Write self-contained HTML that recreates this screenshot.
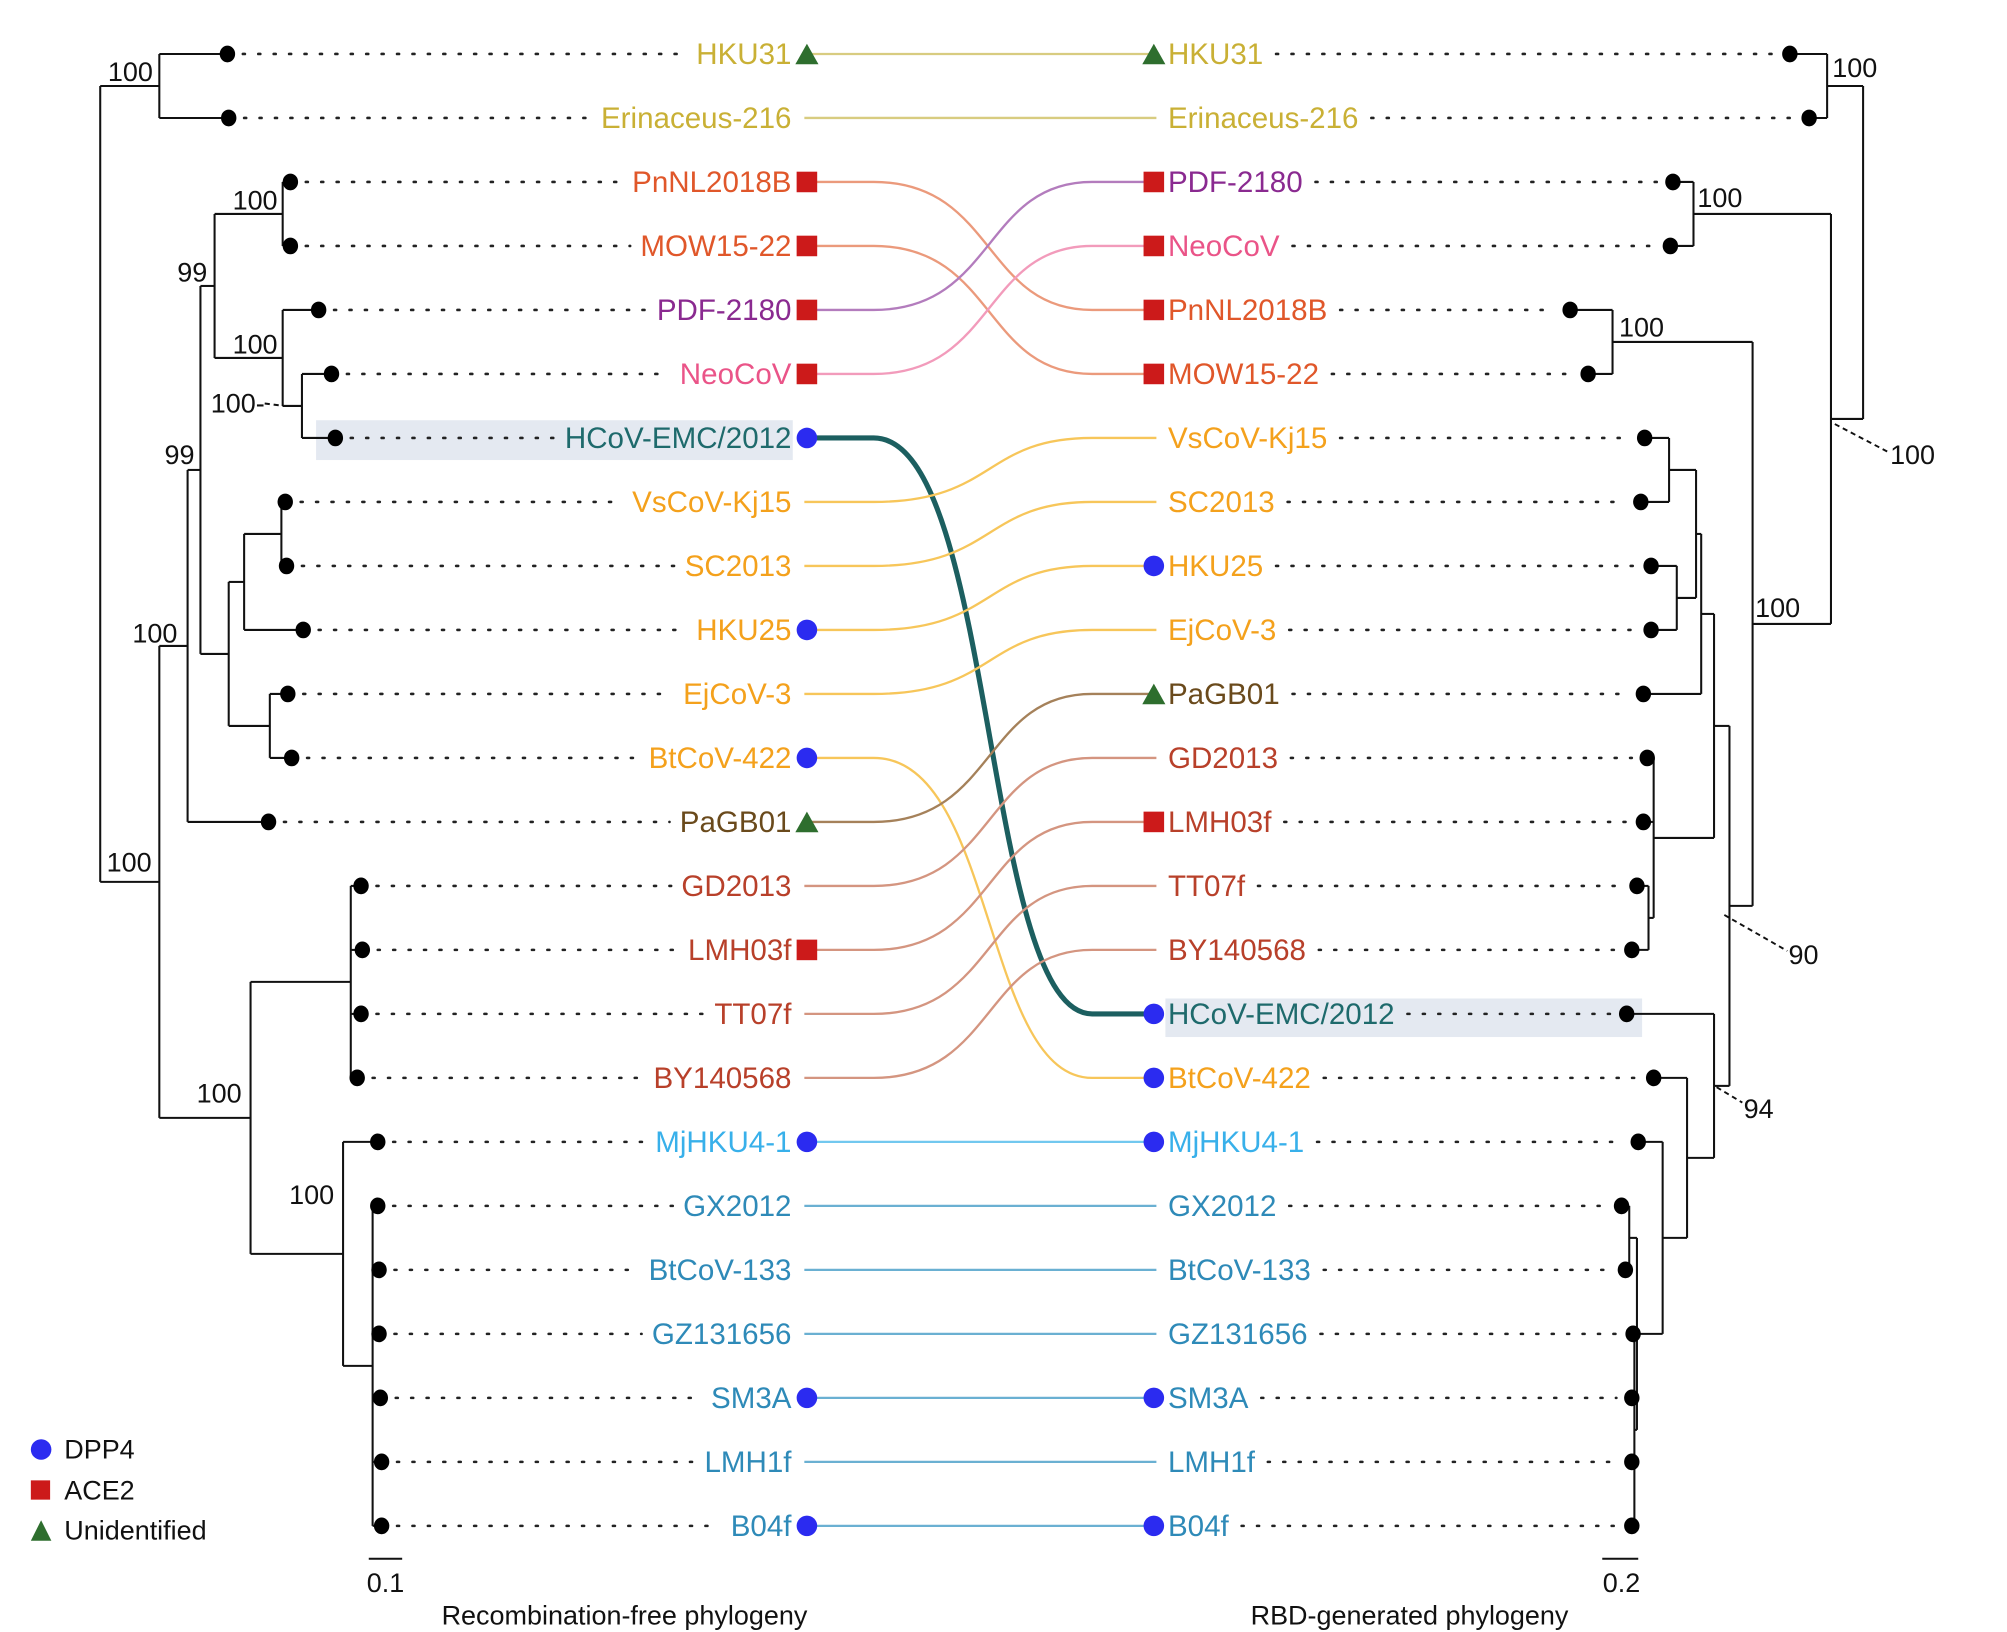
<!DOCTYPE html>
<html><head><meta charset="utf-8">
<style>
html,body{margin:0;padding:0;background:#fff;}
svg{display:block;}
text{font-family:"Liberation Sans",sans-serif;}
</style></head>
<body>
<svg id="chart" width="2007" height="1632" viewBox="0 0 1562 1270" preserveAspectRatio="none" xmlns="http://www.w3.org/2000/svg">
<rect x="246" y="327" width="371" height="31" fill="#e4e9f1"/>
<rect x="907" y="777" width="371" height="30" fill="#e4e9f1"/>
<g id="links"></g><g id="trees"></g><g id="labels"></g>
<g font-size="21" fill="#111">
<text x="84" y="63">100</text><text x="83" y="678">100</text><text x="103" y="500">100</text>
<text x="153" y="858">100</text><text x="225" y="937">100</text><text x="138" y="219">99</text>
<text x="128" y="361">99</text><text x="181" y="163">100</text><text x="181" y="275">100</text>
<text x="164" y="321">100-</text>
<text x="1426" y="60">100</text><text x="1321" y="161">100</text><text x="1260" y="262">100</text>
<text x="1366" y="480">100</text><text x="1471" y="361">100</text><text x="1392" y="750">90</text><text x="1357" y="870">94</text>
</g>
<g stroke="#111" stroke-width="1.5" stroke-dasharray="4,3" fill="none">
<line x1="206" y1="314" x2="222" y2="316"/><line x1="1428" y1="330" x2="1470" y2="352"/>
<line x1="1342" y1="712" x2="1391" y2="740"/><line x1="1336" y1="846" x2="1356" y2="858"/>
</g>
<g font-size="21" fill="#111">
<circle cx="32" cy="1128" r="8" fill="#2b2bf0"/><text x="50" y="1135">DPP4</text>
<rect x="24" y="1152" width="15" height="15" fill="#cc1a1a"/><text x="50" y="1167">ACE2</text>
<polygon points="24,1199 40,1199 32,1183" fill="#2e6e2e"/><text x="50" y="1198">Unidentified</text>
</g>
<g stroke="#111" stroke-width="1.5">
<line x1="287" y1="1213" x2="313" y2="1213"/><line x1="1247" y1="1213" x2="1275" y2="1213"/>
</g>
<g font-size="21" fill="#111" text-anchor="middle">
<text x="300" y="1239">0.1</text>
<text x="1262" y="1239">0.2</text>
<text x="486" y="1264">Recombination-free phylogeny</text>
<text x="1097" y="1264">RBD-generated phylogeny</text>
</g>
</svg>
<script>
// ---- data ----
const leftOrder = ["HKU31","Erinaceus-216","PnNL2018B","MOW15-22","PDF-2180","NeoCoV","HCoV-EMC/2012","VsCoV-Kj15","SC2013","HKU25","EjCoV-3","BtCoV-422","PaGB01","GD2013","LMH03f","TT07f","BY140568","MjHKU4-1","GX2012","BtCoV-133","GZ131656","SM3A","LMH1f","B04f"];
const rightOrder = ["HKU31","Erinaceus-216","PDF-2180","NeoCoV","PnNL2018B","MOW15-22","VsCoV-Kj15","SC2013","HKU25","EjCoV-3","PaGB01","GD2013","LMH03f","TT07f","BY140568","HCoV-EMC/2012","BtCoV-422","MjHKU4-1","GX2012","BtCoV-133","GZ131656","SM3A","LMH1f","B04f"];
const leftTipX = [177,178,226,226,248,258,261,222,223,236,224,227,209,281,282,281,278,294,294,295,295,296,297,297];
const rightTipX = [1393,1408,1302,1300,1222,1236,1280,1277,1285,1285,1279,1282,1279,1274,1270,1266,1287,1275,1262,1265,1271,1270,1270,1270];
const receptor = {"HKU31":"U","PnNL2018B":"A","MOW15-22":"A","PDF-2180":"A","NeoCoV":"A","HCoV-EMC/2012":"D","HKU25":"D","BtCoV-422":"D","PaGB01":"U","LMH03f":"A","MjHKU4-1":"D","SM3A":"D","B04f":"D"};
const textColor = {"HKU31":"#c9b035","Erinaceus-216":"#c9b035","PnNL2018B":"#e0572a","MOW15-22":"#e0572a","PDF-2180":"#8a2a90","NeoCoV":"#ea5488","HCoV-EMC/2012":"#1e6a6c","VsCoV-Kj15":"#f4a11c","SC2013":"#f4a11c","HKU25":"#f4a11c","EjCoV-3":"#f4a11c","BtCoV-422":"#f4a11c","PaGB01":"#6a4a1c","GD2013":"#b8402a","LMH03f":"#b8402a","TT07f":"#b8402a","BY140568":"#b8402a","MjHKU4-1":"#38b0ea","GX2012":"#2e8ab8","BtCoV-133":"#2e8ab8","GZ131656":"#2e8ab8","SM3A":"#2e8ab8","LMH1f":"#2e8ab8","B04f":"#2e8ab8"};
const linkColor = {"HKU31":"#d8cc80","Erinaceus-216":"#d8cc80","PnNL2018B":"#eb9a7c","MOW15-22":"#eb9a7c","PDF-2180":"#b37cbd","NeoCoV":"#f29bbb","HCoV-EMC/2012":"#1c5f60","VsCoV-Kj15":"#f7c65a","SC2013":"#f7c65a","HKU25":"#f7c65a","EjCoV-3":"#f7c65a","BtCoV-422":"#f7c65a","PaGB01":"#a5815a","GD2013":"#d49580","LMH03f":"#d49580","TT07f":"#d49580","BY140568":"#d49580","MjHKU4-1":"#72c8ef","GX2012":"#6ab0d2","BtCoV-133":"#6ab0d2","GZ131656":"#6ab0d2","SM3A":"#6ab0d2","LMH1f":"#6ab0d2","B04f":"#6ab0d2"};
const n=(x,c)=>({x:x,c:c});
const leftTree = n(78,[n(124,[0,1]), n(124,[ n(146,[ n(156,[ n(167,[n(220,[2,3]), n(220,[4,n(235,[5,6])])]), n(178,[n(190,[n(219,[7,8]),9]), n(210,[10,11])]) ]), 12 ]), n(195,[ n(273,[13,14,15,16]), n(267,[17, n(290,[18,19,20,21,22,23])]) ]) ]) ]);
const rightTree = n(1450,[n(1422,[0,1]), n(1425,[ n(1318,[2,3]), n(1364,[ n(1255,[4,5]), n(1346,[ n(1334,[ n(1324,[ n(1320,[n(1299,[6,7]), n(1305,[8,9])]), 10 ]), n(1287,[11,12,n(1283,[13,14])]) ]), n(1334,[15, n(1313,[16, n(1294,[17, n(1274,[ n(1268,[18,19]), n(1272,[20,21,22,23]) ]) ]) ]) ]) ]) ]) ]) ]);

// ---- axes ----
const rowY = i => 42 + i*49.8;
const NS="http://www.w3.org/2000/svg";
const gT=document.getElementById('trees'), gL=document.getElementById('labels'), gK=document.getElementById('links');
function mk(tag,attrs,parent){const e=document.createElementNS(NS,tag);for(const k in attrs)e.setAttribute(k,attrs[k]);parent.appendChild(e);return e;}

function drawTree(node, tipX, side){
  if(typeof node==='number') return {x:tipX[node], y:rowY(node)};
  const kids=node.c.map(c=>drawTree(c,tipX,side));
  const y0=kids[0].y, y1=kids[kids.length-1].y;
  const v=mk('line',{x1:node.x,y1:y0,x2:node.x,y2:y1,stroke:'#111','stroke-width':1.6},gT);
  
  
  kids.forEach(k=>{
    const h=mk('line',{x1:node.x,y1:k.y,x2:k.x,y2:k.y,stroke:'#111','stroke-width':1.6},gT);
    
    
  });
  return {x:node.x, y:(y0+y1)/2};
}
drawTree(leftTree,leftTipX,'left');
drawTree(rightTree,rightTipX,'right');

function marker(type,x,y,name){
  let e;
  if(type==='D') e=mk('circle',{cx:x,cy:y,r:8,fill:'#2b2bf0'},gL);
  else if(type==='A') e=mk('rect',{x:x-8,y:y-8,width:16,height:16,fill:'#cc1a1a'},gL);
  else e=mk('polygon',{points:`${x-9},${y+8} ${x+9},${y+8} ${x},${y-8}`,fill:'#2e6e2e'},gL);
  
  
}
function slug(s){return s.toLowerCase().replace(/[^a-z0-9]+/g,'-');}

leftOrder.forEach((nm,i)=>{
  const y=rowY(i), tx=leftTipX[i];
  const t=mk('text',{x:616,y:y+8,'text-anchor':'end','font-size':23,fill:textColor[nm]},gL);
  t.textContent=nm;
  
  
  const w=t.getComputedTextLength();
  const d=mk('line',{x1:tx+12,y1:y,x2:616-w-8,y2:y,stroke:'#222','stroke-width':2,'stroke-dasharray':'1.6,10.4','stroke-linecap':'round'},gL);
  
  
  const c=mk('ellipse',{cx:tx,cy:y,rx:6,ry:6.5,fill:'#000'},gL);
  
  
  if(receptor[nm]) marker(receptor[nm],628,y,'left-marker-'+slug(nm));
});
rightOrder.forEach((nm,i)=>{
  const y=rowY(i), tx=rightTipX[i];
  const t=mk('text',{x:909,y:y+8,'font-size':23,fill:textColor[nm]},gL);
  t.textContent=nm;
  
  
  const w=t.getComputedTextLength();
  const d=mk('line',{x1:909+w+10,y1:y,x2:tx-12,y2:y,stroke:'#222','stroke-width':2,'stroke-dasharray':'1.6,10.4','stroke-linecap':'round'},gL);
  
  
  const c=mk('ellipse',{cx:tx,cy:y,rx:6,ry:6.5,fill:'#000'},gL);
  
  
  if(receptor[nm]) marker(receptor[nm],898,y,'right-marker-'+slug(nm));
});
leftOrder.forEach((nm,i)=>{
  const y1=rowY(i), y2=rowY(rightOrder.indexOf(nm));
  const thick = nm==='HCoV-EMC/2012';
  const p=mk('path',{d:`M626 ${y1} H680 C775 ${y1} 765 ${y2} 850 ${y2} H900`,fill:'none',stroke:linkColor[nm],'stroke-width':thick?4:1.8},gK);
  
  
});
</script>
</body></html>
